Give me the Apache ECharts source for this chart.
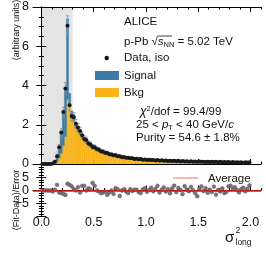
<!DOCTYPE html>
<html><head><meta charset="utf-8">
<script src="https://cdn.jsdelivr.net/npm/echarts@6/dist/echarts.min.js"></script>
<style>html,body{margin:0;padding:0;background:#fff}#c{width:266px;height:253px}</style>
</head><body><div id="c"></div>
<script>
// ---- data ----
const binStart = 0.0;
const binWidth = 0.02;
const dataValues = [
 0,0,0,0,0, 0.02,0.12,0.4,0.85,1.6,
 2.65,3.85,7.05,3.0,2.45, 2.38,2.05,1.86,1.68,1.46,
 1.28,1.22,1.04,0.99,0.87, 0.85,0.76,0.73,0.65,0.63,
 0.57,0.56,0.5,0.49,0.44, 0.45,0.4,0.39,0.35,0.36,
 0.32,0.32,0.29,0.29,0.26, 0.27,0.24,0.25,0.22,0.23,
 0.21,0.22,0.2,0.21,0.18, 0.2,0.17,0.19,0.16,0.18,
 0.15,0.17,0.15,0.16,0.14, 0.16,0.13,0.15,0.13,0.14,
 0.12,0.14,0.12,0.13,0.11, 0.13,0.11,0.12,0.1,0.12,
 0.1,0.11,0.1,0.11,0.09, 0.11,0.09,0.1,0.09,0.1,
 0.08,0.1,0.08,0.09,0.08, 0.09,0.07,0.09,0.08,0.09
];
const dataErrors = [
 0.02,0.02,0.02,0.02,0.02, 0.03,0.06,0.1,0.14,0.2,
 0.25,0.3,0.5,0.28,0.25, 0.24,0.22,0.2,0.19,0.18,
 0.16,0.15,0.14,0.13,0.12, 0.12,0.11,0.11,0.1,0.1,
 0.09,0.09,0.08,0.08,0.08, 0.08,0.07,0.07,0.07,0.07,
 0.06,0.06,0.06,0.06,0.06, 0.06,0.05,0.05,0.05,0.05,
 0.05,0.05,0.05,0.05,0.04, 0.05,0.04,0.04,0.04,0.04,
 0.04,0.04,0.04,0.04,0.04, 0.04,0.04,0.04,0.04,0.04,
 0.04,0.04,0.04,0.04,0.03, 0.04,0.03,0.03,0.03,0.03,
 0.03,0.03,0.03,0.03,0.03, 0.03,0.03,0.03,0.03,0.03,
 0.03,0.03,0.03,0.03,0.03, 0.03,0.03,0.03,0.03,0.03
];
const signalValues = [
 0,0,0,0,0, 0,0.06,0.25,0.55,1.05,
 1.7,2.45,4.1,0.55,0.4, 0.32,0.26,0.22,0.18,0.15,
 0.13,0.11,0.09,0.08,0.07, 0.06,0.05,0.05,0.04,0.04,
 0.03,0.03,0.02,0.02,0.02, 0.02,0.02,0.01,0.01,0.01,
 0.01,0.01,0.01,0.01,0.01, 0.01,0.01,0.01,0.01,0.01,
 0,0,0,0,0, 0,0,0,0,0,
 0,0,0,0,0, 0,0,0,0,0,
 0,0,0,0,0, 0,0,0,0,0,
 0,0,0,0,0, 0,0,0,0,0,
 0,0,0,0,0, 0,0,0,0,0
];
const bkgValues = [
 0,0,0,0,0, 0.01,0.05,0.12,0.3,0.55,
 0.95,1.4,3.3,3.05,2.3, 2.2,1.85,1.65,1.5,1.32,
 1.2,1.08,0.98,0.9,0.83, 0.77,0.72,0.67,0.63,0.58,
 0.55,0.52,0.49,0.46,0.44, 0.42,0.4,0.38,0.36,0.34,
 0.33,0.31,0.3,0.28,0.27, 0.26,0.25,0.24,0.23,0.22,
 0.22,0.21,0.2,0.2,0.19, 0.19,0.18,0.18,0.17,0.17,
 0.16,0.16,0.16,0.15,0.15, 0.15,0.14,0.14,0.14,0.13,
 0.13,0.13,0.13,0.12,0.12, 0.12,0.12,0.11,0.11,0.11,
 0.11,0.11,0.1,0.1,0.1, 0.1,0.1,0.1,0.09,0.09,
 0.09,0.09,0.09,0.09,0.08, 0.08,0.08,0.08,0.08,0.08
];
const ratioValues = [
 0,0,0,0,0, -0.4,0.3,2.2,-0.8,-1.0,
 -1.3,-1.7,2.6,2.2,1.6, 0.5,0.0,1.3,-0.8,1.8,
 1.8,0.0,0.9,0.4,2.9, 1.8,0.0,-0.4,-1.0,-0.8,
 -0.4,-1.7,-0.8,0.0,-1.3, 0.9,0.5,-2.1,0.0,0.5,
 -0.4,-1.0,0.5,-0.2,0.3, 0.3,-0.6,-1.0,0.4,0.9,
 -0.5,0.2,1.1,-0.3,0.6, 1.8,-0.8,0.3,1.2,-0.4,
 0.5,-1.1,0.8,1.9,-0.6, 1.0,0.2,-1.4,1.7,0.4,
 -0.3,1.4,0.1,-1.0,-2.2, 0.7,1.6,-0.2,0.9,-0.9,
 0.3,-0.6,1.5,-1.6,0.2, -0.4,0.8,-1.0,-0.5,1.6,
 1.9,0.6,1.3,0.2,-0.7, 0.5,1.1,-0.3,0.7,2.0
];
const signalRegion = [0.0, 0.3];
const xMajorTicks = [0, 0.5, 1.0, 1.5, 2.0];
const xMinorTicks = [0.1,0.2,0.3,0.4,0.6,0.7,0.8,0.9,1.1,1.2,1.3,1.4,1.6,1.7,1.8,1.9,2.1];

// ---- build ----
const lo = dataValues.map((_, i) => binStart + binWidth * i);
const centers = lo.map(v => v + binWidth / 2);
const bkgRects = lo.map((x, i) => [x, x + binWidth, 0, bkgValues[i]]);
const sigRects = lo.map((x, i) => [x, x + binWidth, bkgValues[i], bkgValues[i] + signalValues[i]]);
const pts = centers.map((x, i) => [x, dataValues[i]]);
const errs = centers.map((x, i) => [x, dataValues[i] - dataErrors[i], dataValues[i] + dataErrors[i]]);
const ratioPts = centers.map((x, i) => [x, ratioValues[i]]);

const BLUE = '#3b7ca6', YEL = '#fbb51b';
const FONT = 'Liberation Sans, Arial, sans-serif';

function rectRender(color) {
  return function (params, api) {
    const p0 = api.coord([api.value(0), api.value(3)]);
    const p1 = api.coord([api.value(1), api.value(2)]);
    return { type: 'rect', shape: { x: p0[0], y: p0[1], width: p1[0] - p0[0], height: p1[1] - p0[1] },
      style: { fill: color, stroke: color, lineWidth: 0.4 } };
  };
}

const xBase = { type: 'value', min: -0.08, max: 2.1, splitLine: { show: false } };
function xAx(grid, pos, major, labels) {
  return Object.assign({}, xBase, {
    gridIndex: grid, position: pos,
    axisLine: { show: major, lineStyle: { color: '#000', width: 1 } },
    axisTick: { show: true, inside: true, length: major ? 5 : 2.5, customValues: major ? xMajorTicks : xMinorTicks, lineStyle: { color: '#000', width: 1 } },
    axisLabel: labels ? { show: true, customValues: xMajorTicks, fontSize: 12.5, fontFamily: FONT, color: '#111', margin: 0,
      formatter: v => v.toFixed(1) } : { show: false }
  });
}

const chart = echarts.init(document.getElementById('c'), null, { renderer: 'canvas' });
chart.setOption({
  animation: false,
  grid: [
    { left: 33, top: 7, width: 228, height: 157 },
    { left: 33, top: 164.5, width: 228, height: 52 }
  ],
  xAxis: [
    xAx(0, 'bottom', true, false),
    xAx(0, 'bottom', false, false),
    xAx(0, 'top', true, false),
    xAx(0, 'top', false, false),
    xAx(1, 'bottom', true, true),
    xAx(1, 'bottom', false, false)
  ],
  yAxis: [
    { gridIndex: 0, type: 'value', min: 0, max: 8, interval: 2, position: 'left',
      axisLine: { show: true, lineStyle: { color: '#000' } },
      axisTick: { show: true, inside: true, length: 5, lineStyle: { color: '#000' } },
      minorTick: { show: true, splitNumber: 4, length: 2.5, lineStyle: { color: '#000' } },
      splitLine: { show: false },
      axisLabel: { fontSize: 12.5, fontFamily: FONT, color: '#111', margin: 4 } },
    { gridIndex: 0, type: 'value', min: 0, max: 8, interval: 2, position: 'right',
      axisLine: { show: true, lineStyle: { color: '#000' } },
      axisTick: { show: true, inside: true, length: 5, lineStyle: { color: '#000' } },
      minorTick: { show: true, splitNumber: 4, length: 2.5, lineStyle: { color: '#000' } },
      splitLine: { show: false }, axisLabel: { show: false } },
    { gridIndex: 1, type: 'value', min: -10, max: 10, interval: 5, position: 'left',
      axisLine: { show: true, lineStyle: { color: '#000' } },
      axisTick: { show: true, inside: true, length: 5, lineStyle: { color: '#000' } },
      minorTick: { show: true, splitNumber: 5, length: 2.5, lineStyle: { color: '#000' } },
      splitLine: { show: false },
      axisLabel: { fontSize: 12.5, fontFamily: FONT, color: '#111', margin: 4,
        formatter: v => (Math.abs(v) >= 10 ? '' : (v < 0 ? '\u2212' + Math.abs(v) : String(v))) } },
    { gridIndex: 1, type: 'value', min: -10, max: 10, interval: 5, position: 'right',
      axisLine: { show: true, lineStyle: { color: '#000' } },
      axisTick: { show: true, inside: true, length: 5, lineStyle: { color: '#000' } },
      minorTick: { show: true, splitNumber: 5, length: 2.5, lineStyle: { color: '#000' } },
      splitLine: { show: false }, axisLabel: { show: false } }
  ],
  series: [
    { type: 'custom', xAxisIndex: 0, yAxisIndex: 0, z: 0, silent: true,
      data: [signalRegion],
      renderItem: function (params, api) {
        const p0 = api.coord([api.value(0), 8]);
        const p1 = api.coord([api.value(1), 0]);
        return { type: 'rect', shape: { x: p0[0], y: p0[1], width: p1[0] - p0[0], height: p1[1] - p0[1] }, style: { fill: '#e4e4e4' } };
      } },
    { type: 'custom', xAxisIndex: 0, yAxisIndex: 0, z: 2, clip: true, data: bkgRects, renderItem: rectRender(YEL) },
    { type: 'custom', xAxisIndex: 0, yAxisIndex: 0, z: 2, clip: true, data: sigRects, renderItem: rectRender(BLUE) },
    { type: 'custom', xAxisIndex: 0, yAxisIndex: 0, z: 3, clip: true, data: errs,
      renderItem: function (params, api) {
        const a = api.coord([api.value(0), api.value(1)]);
        const b = api.coord([api.value(0), api.value(2)]);
        const st = { stroke: '#8a8a8a', lineWidth: 0.8 };
        return { type: 'group', children: [
          { type: 'line', shape: { x1: a[0], y1: a[1], x2: b[0], y2: b[1] }, style: st },
          { type: 'line', shape: { x1: a[0] - 1.5, y1: a[1], x2: a[0] + 1.5, y2: a[1] }, style: st },
          { type: 'line', shape: { x1: b[0] - 1.5, y1: b[1], x2: b[0] + 1.5, y2: b[1] }, style: st }
        ] };
      } },
    { type: 'scatter', xAxisIndex: 0, yAxisIndex: 0, z: 4, data: pts, symbolSize: 4,
      itemStyle: { color: '#1a1a1a', opacity: 1 } },
    { type: 'scatter', xAxisIndex: 4, yAxisIndex: 2, z: 3, data: ratioPts, symbolSize: 3.8,
      itemStyle: { color: '#777', borderColor: '#444', borderWidth: 0.4, opacity: 1 },
      markLine: { silent: true, symbol: 'none', label: { show: false }, z: 5,
        lineStyle: { color: '#e8141a', width: 1.5, type: 'solid' }, data: [{ yAxis: 0 }] } }
  ],
  graphic: [
    { type: 'text', x: 17, y: 30, rotation: Math.PI / 2,
      style: { text: '(arbitrary units)', fontSize: 9, fontFamily: FONT, fill: '#111', align: 'center', verticalAlign: 'middle' } },
    { type: 'text', x: 17, y: 200, rotation: Math.PI / 2,
      style: { text: '(Fit-Data)/Error', fontSize: 9, fontFamily: FONT, fill: '#111', align: 'center', verticalAlign: 'middle' } },
    { type: 'text', x: 43, y: 23, style: { text: '(c)', fontSize: 12.5, fontWeight: 'bold', fontFamily: FONT, fill: '#111', verticalAlign: 'middle' } },
    { type: 'text', x: 124, y: 22, style: { text: 'ALICE', fontSize: 11.5, fontFamily: FONT, fill: '#111', verticalAlign: 'middle' } },
    { type: 'text', x: 124, y: 42, style: { text: 'p-Pb \u221A{i|s}{sub|NN} = 5.02 TeV', fontSize: 11.5, fontFamily: FONT, fill: '#111', verticalAlign: 'middle', lineHeight: 14,
      rich: { i: { fontStyle: 'italic', fontSize: 11.5, fontFamily: FONT, lineHeight: 14 }, sub: { fontSize: 7.5, fontFamily: FONT, lineHeight: 8, verticalAlign: 'bottom' } } } },
    { type: 'line', shape: { x1: 157.5, y1: 36, x2: 172, y2: 36 }, style: { stroke: '#111', lineWidth: 0.8 } },
    { type: 'circle', shape: { cx: 106.7, cy: 58, r: 2.2 }, style: { fill: '#111' } },
    { type: 'text', x: 124, y: 58, style: { text: 'Data, iso', fontSize: 11.5, fontFamily: FONT, fill: '#111', verticalAlign: 'middle' } },
    { type: 'rect', shape: { x: 95, y: 71, width: 24, height: 9 }, style: { fill: BLUE } },
    { type: 'text', x: 124, y: 76, style: { text: 'Signal', fontSize: 11.5, fontFamily: FONT, fill: '#111', verticalAlign: 'middle' } },
    { type: 'rect', shape: { x: 95, y: 88, width: 24, height: 9 }, style: { fill: YEL } },
    { type: 'text', x: 124, y: 93, style: { text: 'Bkg', fontSize: 11.5, fontFamily: FONT, fill: '#111', verticalAlign: 'middle' } },
    { type: 'text', x: 140, y: 112, style: { text: '{i|\u03C7}{sup|2}/dof = 99.4/99', fontSize: 11.5, fontFamily: FONT, fill: '#111', verticalAlign: 'middle', lineHeight: 14,
      rich: { i: { fontStyle: 'italic', fontSize: 12, fontFamily: FONT, lineHeight: 14 }, sup: { fontSize: 7.5, fontFamily: FONT, lineHeight: 8, verticalAlign: 'top' } } } },
    { type: 'text', x: 136, y: 125, style: { text: '25 < {i|p}{sub|T} < 40 GeV/{i|c}', fontSize: 11.5, fontFamily: FONT, fill: '#111', verticalAlign: 'middle', lineHeight: 14,
      rich: { i: { fontStyle: 'italic', fontSize: 11.5, fontFamily: FONT, lineHeight: 14 }, sub: { fontSize: 7.5, fontFamily: FONT, lineHeight: 8, verticalAlign: 'bottom' } } } },
    { type: 'text', x: 136, y: 138, style: { text: 'Purity = 54.6 \u00B1 1.8%', fontSize: 11.5, fontFamily: FONT, fill: '#111', verticalAlign: 'middle' } },
    { type: 'line', shape: { x1: 173, y1: 178, x2: 198, y2: 178 }, style: { stroke: 'rgba(235,40,40,0.45)', lineWidth: 1.5 } },
    { type: 'text', x: 208, y: 179, style: { text: 'Average', fontSize: 11.5, fontFamily: FONT, fill: '#111', verticalAlign: 'middle' } },
    { type: 'text', x: 225, y: 238, style: { text: '\u03C3', fontSize: 15, fontFamily: FONT, fill: '#111', verticalAlign: 'middle' } },
    { type: 'text', x: 235.5, y: 231, style: { text: '2', fontSize: 8.5, fontFamily: FONT, fill: '#111', verticalAlign: 'middle' } },
    { type: 'text', x: 235.5, y: 243, style: { text: 'long', fontSize: 8.5, fontFamily: FONT, fill: '#111', verticalAlign: 'middle' } }
  ]
});
</script>
</body></html>
